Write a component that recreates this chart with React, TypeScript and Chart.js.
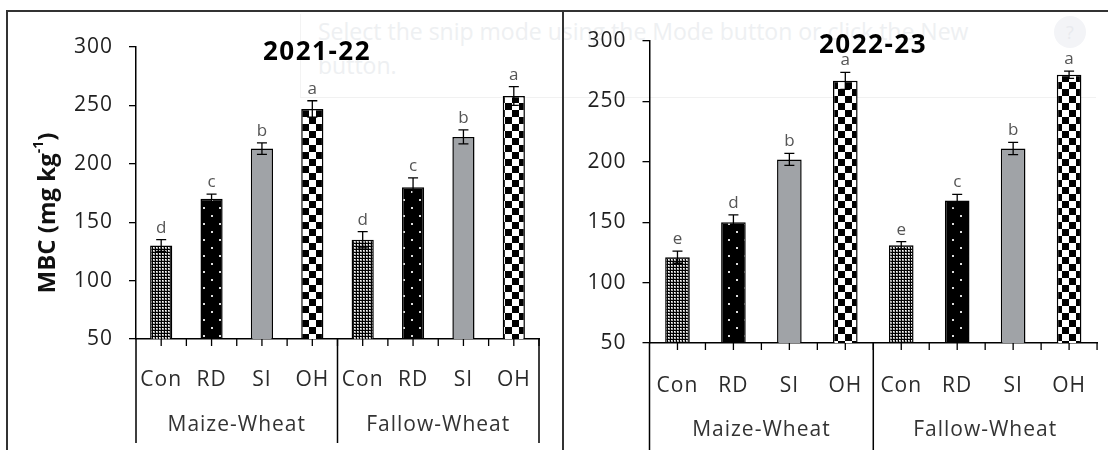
import React, { useEffect, useRef } from "react";
import { Chart, registerables } from "chart.js";

Chart.register(...registerables);

// ---------- data ----------
const categories = ["Con", "RD", "SI", "OH", "Con", "RD", "SI", "OH"];
const groups = ["Maize-Wheat", "Fallow-Wheat"];
const yTickValues = [50, 100, 150, 200, 250, 300];

const mbc2021 = [130, 170, 213, 247, 135, 180, 223, 258];
const err2021 = [5, 4, 5, 7, 7, 8, 6, 8];
const letters2021 = ["d", "c", "b", "a", "d", "c", "b", "a"];

const mbc2022 = [121, 150, 202, 267, 131, 168, 211, 272];
const err2022 = [5, 6, 5, 7, 3, 5, 5, 3];
const letters2022 = ["e", "d", "b", "a", "e", "c", "b", "a"];

const treatmentFills = ["fine", "sparse", "solid", "checker"];

const FONT = "'Open Sans', 'DejaVu Sans', sans-serif";

function makeFill(kind: string): CanvasPattern | string {
  if (kind === "solid") return "#a0a3a7";
  const c = document.createElement("canvas");
  if (kind === "fine") {
    c.width = 3;
    c.height = 3;
    const g = c.getContext("2d")!;
    g.fillStyle = "#000";
    g.fillRect(0, 0, 3, 3);
    g.fillStyle = "#a8a8a8";
    g.fillRect(1, 1, 2, 2);
    g.fillStyle = "#ffffff";
    g.fillRect(1, 1, 1, 1);
    return g.createPattern(c, "repeat")!;
  }
  if (kind === "sparse") {
    c.width = 16;
    c.height = 16;
    const g = c.getContext("2d")!;
    g.fillStyle = "#000";
    g.fillRect(0, 0, 16, 16);
    g.fillStyle = "#dddddd";
    g.fillRect(3, 3, 2, 2);
    g.fillRect(11, 11, 2, 2);
    return g.createPattern(c, "repeat")!;
  }
  // checker
  c.width = 14;
  c.height = 14;
  const g = c.getContext("2d")!;
  g.fillStyle = "#fff";
  g.fillRect(0, 0, 14, 14);
  g.fillStyle = "#000";
  g.fillRect(0, 0, 7, 7);
  g.fillRect(7, 7, 7, 7);
  return g.createPattern(c, "repeat")!;
}

type PanelCfg = {
  x: number;
  y: number;
  w: number;
  h: number;
  target: { l: number; r: number; t: number; b: number };
  values: number[];
  errors: number[];
  letters: string[];
  title: string;
  titleX: number;
  titleY: number;
  yTitle: boolean;
  yTitleX: number;
  yTitleY: number;
  catPad: number;
  groupOff: number;
  lineBottom: number;
  rightLine: boolean;
};

function Panel({ cfg }: { cfg: PanelCfg }) {
  const ref = useRef<HTMLCanvasElement>(null);
  useEffect(() => {
    const canvas = ref.current!;
    const st = {
      yW: cfg.target.l,
      xH: cfg.h - cfg.target.b,
      top: cfg.target.t,
      right: cfg.w - cfg.target.r,
    };
    const fills = categories.map((_, i) => makeFill(treatmentFills[i % 4]));

    const decor = {
      id: "decor",
      beforeLayout(chart: any) {
        chart.ctx.letterSpacing = "1px";
      },
      beforeDraw(chart: any) {
        chart.ctx.letterSpacing = "1px";
      },
      afterDatasetsDraw(chart: any) {
        const { ctx, scales } = chart;
        const ys = scales.y;
        const meta = chart.getDatasetMeta(0);
        ctx.save();
        ctx.letterSpacing = "0px";
        meta.data.forEach((bar: any, i: number) => {
          const v = cfg.values[i];
          const e = cfg.errors[i];
          const px = bar.x;
          const yt = ys.getPixelForValue(v + e);
          const yb = ys.getPixelForValue(v - e);
          ctx.strokeStyle = "#000";
          ctx.lineWidth = 1.3;
          ctx.beginPath();
          ctx.moveTo(px, yt);
          ctx.lineTo(px, yb);
          ctx.moveTo(px - 5, yt);
          ctx.lineTo(px + 5, yt);
          ctx.moveTo(px - 5, yb);
          ctx.lineTo(px + 5, yb);
          ctx.stroke();
          ctx.fillStyle = "#555";
          ctx.font = `17px ${FONT}`;
          ctx.textAlign = "center";
          ctx.textBaseline = "alphabetic";
          ctx.fillText(cfg.letters[i], px, yt - 7);
        });
        ctx.restore();
      },
      afterDraw(chart: any) {
        const { ctx, chartArea: ca, scales } = chart;
        const xs = scales.x;
        const n = categories.length;
        const cw = (ca.right - ca.left) / n;
        ctx.save();
        ctx.letterSpacing = "0px";
        ctx.strokeStyle = "#000";
        ctx.lineWidth = 1.3;
        ctx.beginPath();
        for (let i = 0; i < n; i++) {
          const c = xs.getPixelForValue(i);
          ctx.moveTo(c, ca.bottom);
          ctx.lineTo(c, ca.bottom + 7);
          const b = c + cw / 2;
          ctx.moveTo(b, ca.bottom);
          ctx.lineTo(b, ca.bottom + 7);
        }
        ctx.stroke();
        // group separators
        ctx.lineWidth = 1.5;
        ctx.beginPath();
        const seps = [xs.getPixelForValue(0) - cw / 2, xs.getPixelForValue(3) + cw / 2];
        if (cfg.rightLine) seps.push(xs.getPixelForValue(7) + cw / 2);
        seps.forEach((sx) => {
          ctx.moveTo(sx, ca.bottom);
          ctx.lineTo(sx, cfg.lineBottom);
        });
        ctx.stroke();
        // group labels
        ctx.fillStyle = "#333";
        ctx.font = `21px ${FONT}`;
        ctx.textAlign = "center";
        ctx.textBaseline = "middle";
        ctx.letterSpacing = "1px";
        groups.forEach((g, gi) => {
          const x0 = xs.getPixelForValue(gi * 4) - cw / 2;
          const x1 = xs.getPixelForValue(gi * 4 + 3) + cw / 2;
          ctx.fillText(g, (x0 + x1) / 2, ca.bottom + cfg.groupOff);
        });
        // title
        ctx.fillStyle = "#000";
        ctx.font = `bold 26px ${FONT}`;
        ctx.letterSpacing = "1.5px";
        ctx.fillText(cfg.title, cfg.titleX, cfg.titleY);
        // y title with superscript
        if (cfg.yTitle) {
          ctx.letterSpacing = "0px";
          ctx.translate(cfg.yTitleX, cfg.yTitleY);
          ctx.rotate(-Math.PI / 2);
          const mainFont = `bold 24px ${FONT}`;
          const supFont = `bold 14px ${FONT}`;
          const a = "MBC (mg kg";
          const s = "-1";
          const z = ")";
          ctx.font = mainFont;
          const wa = ctx.measureText(a).width;
          const wz = ctx.measureText(z).width;
          ctx.font = supFont;
          const ws = ctx.measureText(s).width;
          const total = wa + ws + wz;
          let cx = -total / 2;
          ctx.textAlign = "left";
          ctx.textBaseline = "middle";
          ctx.fillStyle = "#111";
          ctx.font = mainFont;
          ctx.fillText(a, cx, 0);
          cx += wa;
          ctx.font = supFont;
          ctx.fillText(s, cx, -9);
          cx += ws;
          ctx.font = mainFont;
          ctx.fillText(z, cx, 0);
        }
        ctx.restore();
      },
    };

    const chart = new Chart(canvas, {
      type: "bar",
      data: {
        labels: categories,
        datasets: [
          {
            data: cfg.values,
            backgroundColor: fills as any,
            borderColor: "#000",
            borderWidth: 1.5,
            borderSkipped: "start",
            categoryPercentage: 1,
            barPercentage: 0.44,
          },
        ],
      },
      options: {
        animation: false,
        responsive: false,
        maintainAspectRatio: false,
        layout: { padding: { top: st.top, right: st.right, left: 0, bottom: 0 } },
        plugins: {
          legend: { display: false },
          tooltip: { enabled: false },
          title: { display: false },
        },
        scales: {
          x: {
            type: "category",
            offset: true,
            grid: { display: false },
            border: { display: true, color: "#000", width: 1.5 },
            ticks: {
              color: "#2b2b2b",
              font: { family: FONT, size: 21 },
              padding: cfg.catPad,
              maxRotation: 0,
              minRotation: 0,
              autoSkip: false,
            },
            afterFit: (s: any) => {
              s.height = st.xH;
            },
          },
          y: {
            type: "linear",
            min: 50,
            max: 300,
            afterBuildTicks: (s: any) => {
              s.ticks = yTickValues.map((v) => ({ value: v }));
            },
            ticks: {
              color: "#1f1f1f",
              font: { family: FONT, size: 21 },
              padding: 16,
            },
            grid: {
              display: true,
              drawOnChartArea: false,
              drawTicks: true,
              tickLength: 7,
              color: "#000",
              lineWidth: 1.3,
            },
            border: { display: true, color: "#000", width: 1.5 },
            afterFit: (s: any) => {
              s.width = st.yW;
            },
          },
        },
      },
      plugins: [decor as any],
    });

    for (let k = 0; k < 3; k++) {
      const ca = chart.chartArea;
      st.top += cfg.target.t - ca.top;
      st.right += ca.right - cfg.target.r;
      st.yW += cfg.target.l - ca.left;
      st.xH += ca.bottom - cfg.target.b;
      (chart.options as any).layout.padding = { top: st.top, right: st.right, left: 0, bottom: 0 };
      chart.update();
    }

    return () => chart.destroy();
  }, []);
  return (
    <canvas
      ref={ref}
      width={cfg.w}
      height={cfg.h}
      style={{ position: "absolute", left: cfg.x, top: cfg.y, width: cfg.w, height: cfg.h }}
    />
  );
}

const leftCfg: PanelCfg = {
  x: 8,
  y: 12,
  w: 554,
  h: 438,
  target: { l: 128, r: 531, t: 35, b: 327 },
  values: mbc2021,
  errors: err2021,
  letters: letters2021,
  title: "2021-22",
  titleX: 309,
  titleY: 41,
  yTitle: true,
  yTitleX: 40,
  yTitleY: 201,
  catPad: 20,
  groupOff: 86,
  lineBottom: 431,
  rightLine: true,
};

const rightCfg: PanelCfg = {
  x: 565,
  y: 12,
  w: 543,
  h: 438,
  target: { l: 84.5, r: 538.5, t: 29, b: 331 },
  values: mbc2022,
  errors: err2022,
  letters: letters2022,
  title: "2022-23",
  titleX: 308,
  titleY: 34,
  yTitle: false,
  yTitleX: 0,
  yTitleY: 0,
  catPad: 22,
  groupOff: 87,
  lineBottom: 438,
  rightLine: false,
};

export default function App() {
  return (
    <div
      style={{
        position: "absolute",
        left: 0,
        top: 0,
        width: 1108,
        height: 450,
        overflow: "hidden",
        background: "#fff",
      }}
    >
      {/* faint snipping-tool overlay behind the charts */}
      <div
        style={{
          position: "absolute",
          left: 300,
          top: 14,
          width: 795,
          height: 83,
          borderLeft: "1px solid #f3f3f3",
          borderBottom: "1px solid #f1f1f1",
        }}
      />
      <div
        style={{
          position: "absolute",
          left: 318,
          top: 14,
          width: 720,
          fontFamily: "'Open Sans', sans-serif",
          fontSize: 23,
          lineHeight: "34px",
          color: "#eef0f2",
        }}
      >
        Select the snip mode using the Mode button or click the New button.
      </div>
      <div
        style={{
          position: "absolute",
          left: 1054,
          top: 16,
          width: 32,
          height: 32,
          borderRadius: 16,
          background: "#f3f4f7",
          color: "#e8eaee",
          fontFamily: "'Open Sans', sans-serif",
          fontSize: 18,
          textAlign: "center",
          lineHeight: "32px",
        }}
      >
        ?
      </div>
      {/* frame lines */}
      <div style={{ position: "absolute", left: 6, top: 10, width: 1102, height: 2, background: "#333" }} />
      <div style={{ position: "absolute", left: 6, top: 10, width: 2, height: 440, background: "#333" }} />
      <div style={{ position: "absolute", left: 562, top: 10, width: 2, height: 440, background: "#333" }} />
      <Panel cfg={leftCfg} />
      <Panel cfg={rightCfg} />
    </div>
  );
}
